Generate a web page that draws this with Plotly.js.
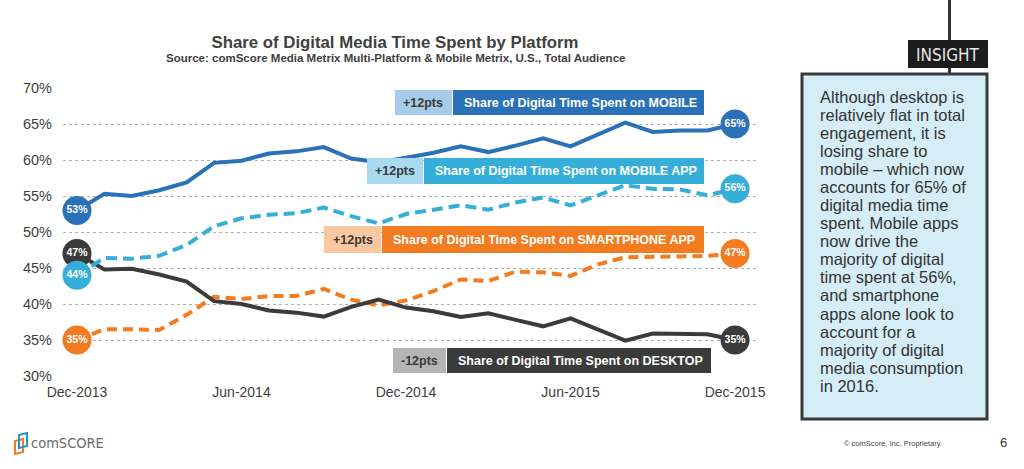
<!DOCTYPE html>
<html>
<head>
<meta charset="utf-8">
<script src="https://cdn.plot.ly/plotly-3.0.1.min.js"></script>
<style>
  html, body { margin: 0; padding: 0; background: #ffffff; }
  #chart { width: 1024px; height: 469px; }
</style>
</head>
<body>
<div id="chart"></div>
<script>
// ---------------- DATA ----------------
const months = ["Dec-2013","Jan-2014","Feb-2014","Mar-2014","Apr-2014","May-2014","Jun-2014",
  "Jul-2014","Aug-2014","Sep-2014","Oct-2014","Nov-2014","Dec-2014","Jan-2015","Feb-2015",
  "Mar-2015","Apr-2015","May-2015","Jun-2015","Jul-2015","Aug-2015","Sep-2015","Oct-2015",
  "Nov-2015","Dec-2015"];
const tickLabels = ["Dec-2013","Jun-2014","Dec-2014","Jun-2015","Dec-2015"];

const mobile        = [53.0,55.3,55.0,55.8,56.9,59.6,59.9,60.9,61.2,61.8,60.2,59.7,60.3,61.0,61.9,61.1,62.0,63.0,61.9,63.5,65.2,63.9,64.1,64.1,65.0];
const mobileApp     = [44.0,46.4,46.3,46.7,48.2,50.8,51.9,52.4,52.6,53.4,52.2,51.2,52.5,53.1,53.7,53.1,54.1,54.8,53.7,55.1,56.5,56.0,55.9,55.1,56.0];
const smartphoneApp = [35.0,36.5,36.5,36.4,38.5,41.0,40.7,41.1,41.1,42.1,40.6,39.8,40.5,41.8,43.4,43.2,44.5,44.4,43.9,45.5,46.5,46.5,46.6,46.7,47.0];
const desktop       = [47.0,44.8,44.9,44.1,43.1,40.4,40.0,39.1,38.8,38.25,39.6,40.6,39.5,39.0,38.2,38.7,37.8,36.9,38.0,36.4,34.9,35.9,35.9,35.8,35.0];

const seriesLabels = ["Share of Digital Time Spent on MOBILE","Share of Digital Time Spent on MOBILE APP",
  "Share of Digital Time Spent on SMARTPHONE APP","Share of Digital Time Spent on DESKTOP"];
const changeLabels = ["+12pts","+12pts","+12pts","-12pts"];

const chartTitle = "Share of Digital Media Time Spent by Platform";
const chartSubtitle = "Source: comScore Media Metrix Multi-Platform & Mobile Metrix, U.S., Total Audience";
const insightTitle = "INSIGHT";
const insightLines = ["Although desktop is","relatively flat in total","engagement, it is","losing share to",
  "mobile \u2013 which now","accounts for 65% of","digital media time","spent. Mobile apps","now drive the",
  "majority of digital","time spent at 56%,","and smartphone","apps alone look to","account for a",
  "majority of digital","media consumption","in 2016."];
const footerText = "\u00a9 comScore, Inc. Proprietary.";
const pageNumber = "6";
const logoText = "comSCORE";

// ---------------- LAYOUT HELPERS ----------------
const L = 63, R = 757, T = 88, B = 376, W = 1024, H = 469;
const px = x => (x - L) / (R - L);
const py = y => (B - y) / (B - T);
const FONT = "Arial, 'Liberation Sans', sans-serif";
const NARROW = "'DejaVu Sans Condensed', Arial, 'Liberation Sans', sans-serif";

const colors = ["#2b71b9", "#35afda", "#f47c20", "#3b3b3b"];
const lightColors = ["#a7cbea", "#a9daf0", "#f9c8a0", "#b4b4b4"];
const dashes = ["solid", "11px,6px", "10px,6px", "solid"];
const seriesData = [mobile, mobileApp, smartphoneApp, desktop];

const traces = [];
const order = [2, 3, 1, 0];
order.forEach(i => {
  traces.push({
    type: "scatter", mode: "lines", x: months, y: seriesData[i],
    line: { color: colors[i], width: 4, dash: dashes[i] },
    hoverinfo: "skip", showlegend: false
  });
});
order.forEach(i => {
  const d = seriesData[i];
  traces.push({
    type: "scatter", mode: "markers+text",
    x: [months[0], months[months.length - 1]],
    y: [d[0], d[d.length - 1]],
    text: [Math.round(d[0]) + "%", Math.round(d[d.length - 1]) + "%"],
    textposition: "middle center",
    textfont: { family: FONT, size: 10.5, color: "#ffffff", weight: "bold" },
    marker: { size: 29, color: colors[i] },
    hoverinfo: "skip", showlegend: false, cliponaxis: false
  });
});

// label boxes (pixel geometry)
const boxes = [
  { lx0: 395, mid: 452, rx1: 704, y0: 90,  y1: 115 },
  { lx0: 367, mid: 423, rx1: 704, y0: 158, y1: 184 },
  { lx0: 324, mid: 381, rx1: 704, y0: 226, y1: 253 },
  { lx0: 393, mid: 446, rx1: 711, y0: 348, y1: 373 }
];

const shapes = [];
const annotations = [];

boxes.forEach((b, i) => {
  shapes.push({ type: "rect", xref: "paper", yref: "paper", layer: "above",
    x0: px(b.lx0), x1: px(b.mid), y0: py(b.y1), y1: py(b.y0),
    fillcolor: lightColors[i], line: { width: 0 } });
  shapes.push({ type: "rect", xref: "paper", yref: "paper", layer: "above",
    x0: px(b.mid + 1), x1: px(b.rx1), y0: py(b.y1), y1: py(b.y0),
    fillcolor: colors[i], line: { width: 0 } });
  annotations.push({ xref: "paper", yref: "paper", x: px((b.lx0 + b.mid) / 2), y: py((b.y0 + b.y1) / 2),
    text: changeLabels[i], showarrow: false, xanchor: "center", yanchor: "middle",
    font: { family: FONT, size: 12.5, color: "#3a3a3a", weight: "bold" } });
  annotations.push({ xref: "paper", yref: "paper", x: px(b.mid + 10), y: py((b.y0 + b.y1) / 2),
    text: seriesLabels[i], showarrow: false, xanchor: "left", yanchor: "middle",
    font: { family: FONT, size: 12.5, color: "#ffffff", weight: "bold" } });
});

// subtitle
annotations.push({ xref: "paper", yref: "paper", x: px(395), y: py(58.5), text: chartSubtitle,
  showarrow: false, xanchor: "center", yanchor: "middle",
  font: { family: FONT, size: 11.5, color: "#404040", weight: "bold" } });

// insight panel
shapes.push({ type: "line", xref: "paper", yref: "paper", x0: px(949.5), x1: px(949.5), y0: py(0), y1: py(74),
  line: { color: "#333333", width: 3 } });
shapes.push({ type: "rect", xref: "paper", yref: "paper", x0: px(802), x1: px(987), y0: py(419), y1: py(74),
  fillcolor: "#d5edf6", line: { color: "#3a3a3a", width: 3 } });
shapes.push({ type: "rect", xref: "paper", yref: "paper", x0: px(908), x1: px(988), y0: py(68), y1: py(40),
  fillcolor: "#1c1c1c", line: { width: 0 } });
annotations.push({ xref: "paper", yref: "paper", x: px(948), y: py(54.5), text: insightTitle,
  showarrow: false, xanchor: "center", yanchor: "middle",
  font: { family: NARROW, size: 17, color: "#e6e6e6" } });
insightLines.forEach((line, k) => {
  annotations.push({ xref: "paper", yref: "paper", x: px(818), y: py(96.7 + k * 18.07), text: line,
    showarrow: false, xanchor: "left", yanchor: "middle",
    font: { family: FONT, size: 16.5, color: "#333333" } });
});

// footer
annotations.push({ xref: "paper", yref: "paper", x: px(893), y: py(443.5), text: footerText,
  showarrow: false, xanchor: "center", yanchor: "middle",
  font: { family: FONT, size: 7.5, color: "#444444" } });
annotations.push({ xref: "paper", yref: "paper", x: px(1003), y: py(442), text: pageNumber,
  showarrow: false, xanchor: "center", yanchor: "middle",
  font: { family: FONT, size: 13, color: "#333333" } });
annotations.push({ xref: "paper", yref: "paper", x: px(29), y: py(443), text: logoText,
  showarrow: false, xanchor: "left", yanchor: "middle",
  font: { family: NARROW, size: 14.5, color: "#6a6a6a" } });
// logo mark
shapes.push({ type: "path", xref: "paper", yref: "paper",
  path: `M ${px(23)} ${py(439)} L ${px(15)} ${py(441)} L ${px(15)} ${py(454)} L ${px(23)} ${py(452)} Z`,
  line: { color: "#f47c20", width: 2 } });
shapes.push({ type: "path", xref: "paper", yref: "paper",
  path: `M ${px(19)} ${py(435)} L ${px(27)} ${py(433)} L ${px(27)} ${py(446)} L ${px(19)} ${py(448)} Z`,
  line: { color: "#2b8fd0", width: 2 } });

const layout = {
  width: W, height: H,
  margin: { l: L, r: W - R, t: T, b: H - B, pad: 0 },
  paper_bgcolor: "#ffffff", plot_bgcolor: "#ffffff",
  showlegend: false,
  title: { text: chartTitle, xref: "container", yref: "container", x: 395 / W, y: 1 - 42 / H,
    xanchor: "center", yanchor: "middle",
    font: { family: FONT, size: 16.8, color: "#404040", weight: "bold" } },
  xaxis: {
    type: "category", range: [-0.51, 24.8], categoryorder: "array", categoryarray: months,
    tickmode: "array", tickvals: tickLabels, ticktext: tickLabels,
    showgrid: false, zeroline: false, showline: false, ticks: "",
    ticklabelstandoff: 6,
    tickfont: { family: FONT, size: 14, color: "#404040" }
  },
  yaxis: {
    range: [30, 70], dtick: 5, tick0: 30, ticksuffix: "%",
    showgrid: true, gridcolor: "#b0b0b0", griddash: "dot", gridwidth: 1,
    zeroline: false, showline: false, ticks: "",
    ticklabelstandoff: 10,
    tickfont: { family: FONT, size: 14.5, color: "#404040" }
  },
  shapes: shapes,
  annotations: annotations
};

Plotly.newPlot("chart", traces, layout, { displayModeBar: false, staticPlot: true });
</script>
</body>
</html>
